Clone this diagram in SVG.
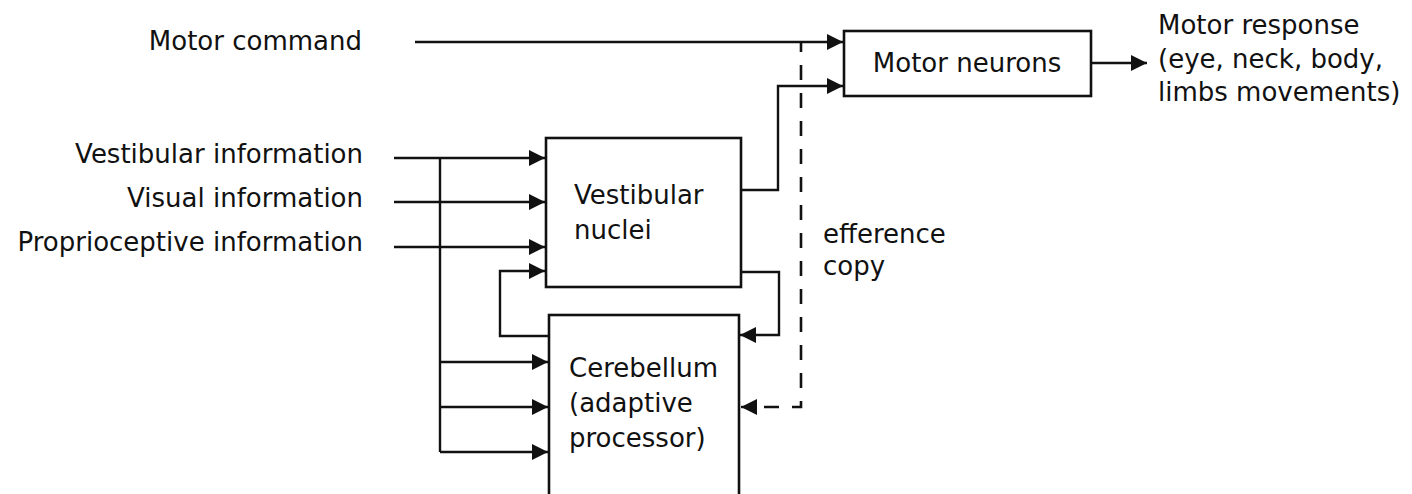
<svg xmlns="http://www.w3.org/2000/svg" width="1412" height="494" viewBox="0 0 1412 494">
<style>
  text { font-family: "DejaVu Sans", "Liberation Sans", sans-serif; font-size: 26px; fill: #111; }
  .r { text-anchor: end; }
  .m { text-anchor: middle; }
  .box { fill: #fff; stroke: #111; stroke-width: 2.6; }
  .ln { fill: none; stroke: #111; stroke-width: 2.4; }
  .dash { fill: none; stroke: #111; stroke-width: 2.6; stroke-dasharray: 15 13; stroke-dashoffset: 5; }
</style>
<defs>
  <marker id="ah" viewBox="0 0 16 16" refX="16" refY="8" markerWidth="16" markerHeight="16" markerUnits="userSpaceOnUse" orient="auto">
    <path d="M0,0 L16,8 L0,16 z" fill="#111"/>
  </marker>
</defs>
<rect width="1412" height="494" fill="#fff"/>

<g id="inputs">
  <text class="r" x="362" y="50">Motor command</text>
  <text class="r" x="363" y="163">Vestibular information</text>
  <text class="r" x="363" y="207">Visual information</text>
  <text class="r" x="363" y="251">Proprioceptive information</text>
</g>

<g id="motor-neurons">
  <rect class="box" x="844" y="31" width="247" height="65"/>
  <text class="m" x="967" y="72">Motor neurons</text>
</g>

<g id="motor-response">
  <text x="1158" y="34">Motor response</text>
  <text x="1158" y="68">(eye, neck, body,</text>
  <text x="1158" y="101">limbs movements)</text>
</g>

<g id="vestibular-nuclei">
  <rect class="box" x="546" y="138" width="195" height="149"/>
  <text x="574" y="204">Vestibular</text>
  <text x="574" y="239">nuclei</text>
</g>

<g id="cerebellum">
  <rect class="box" x="549" y="315" width="190" height="190"/>
  <text x="569" y="377">Cerebellum</text>
  <text x="569" y="412">(adaptive</text>
  <text x="569" y="447">processor)</text>
</g>

<g id="efference-label">
  <text x="823" y="243">efference</text>
  <text x="823" y="275">copy</text>
</g>

<g id="connectors">
  <path class="ln" d="M415,42 H843" marker-end="url(#ah)"/>
  <path class="ln" d="M741,190 H778 V86 H843" marker-end="url(#ah)"/>
  <path class="ln" d="M1091,63 H1147" marker-end="url(#ah)"/>
  <path class="ln" d="M394,158 H545" marker-end="url(#ah)"/>
  <path class="ln" d="M394,202 H545" marker-end="url(#ah)"/>
  <path class="ln" d="M394,247 H545" marker-end="url(#ah)"/>
  <path class="ln" d="M440,158 V452"/>
  <path class="ln" d="M440,362 H548" marker-end="url(#ah)"/>
  <path class="ln" d="M440,407 H548" marker-end="url(#ah)"/>
  <path class="ln" d="M440,452 H548" marker-end="url(#ah)"/>
  <path class="ln" d="M549,336 H500 V271 H545" marker-end="url(#ah)"/>
  <path class="ln" d="M741,272 H779 V335 H740" marker-end="url(#ah)"/>
  <path class="dash" d="M801,42 V407 H757"/>
  <path class="ln" d="M757,407 H741" marker-end="url(#ah)"/>
</g>
</svg>
